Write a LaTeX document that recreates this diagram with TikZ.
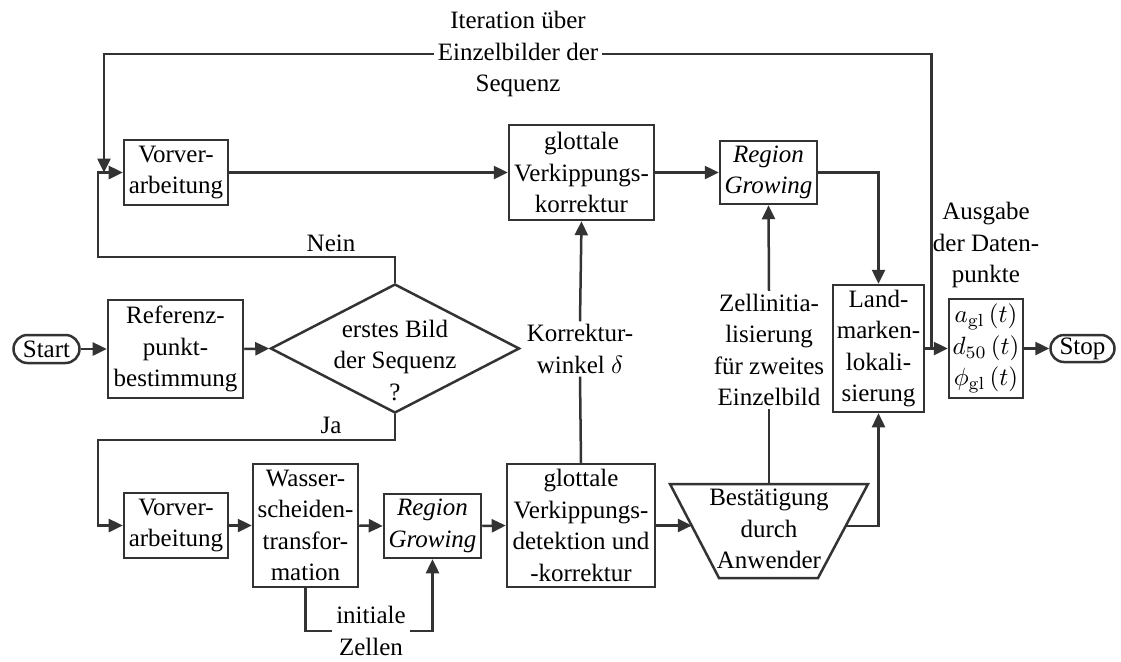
\documentclass[tikz,border=0pt]{standalone}
\usepackage[no-math]{fontspec}
\setmainfont{Liberation Serif}
\usetikzlibrary{shapes.geometric,shapes.misc,arrows.meta,calc}

\begin{document}
\begin{tikzpicture}[x=0.4pt,y=-0.4pt,
  every node/.style={font=\fontsize{10}{12.6}\selectfont, align=center},
  box/.style={draw=black!80, line width=1pt, rectangle, inner sep=1pt},
  term/.style={draw=black!80, line width=1pt, rounded rectangle, inner sep=1pt},
  lbl/.style={inner sep=1.5pt},
  conn/.style={draw=black!80, line width=1pt},
  arr/.style={conn, -{Triangle[length=5.6pt,width=5.2pt]}},
]
\useasboundingbox (0,0) rectangle (1121,661);

% start and reference point
\node[term, minimum width=28.4pt, minimum height=11.2pt] (st) at (46.5,349) {Start};
\node[box, minimum width=54pt, minimum height=39.2pt] (ref) at (175.5,349) {Referenz-\\punkt-\\bestimmung};

% decision
\node[diamond, draw=black!80, line width=1pt, minimum width=99.6pt, minimum height=51.6pt, inner sep=0pt] (dia) at (395,348.5) {};
\node[lbl] (diat) at (395,360) {erstes Bild\\der Sequenz\\?};

% upper branch (following frames)
\node[box, minimum width=41.6pt, minimum height=26pt] (v1) at (176,172.5) {Vorver-\\arbeitung};
\node[box, minimum width=58pt, minimum height=38pt] (gk) at (581.5,172.5) {glottale\\Verkippungs-\\korrektur};
\node[box, minimum width=38.8pt, minimum height=25.2pt] (rg1) at (768.5,172.5) {\textit{Region}\\\textit{Growing}};

% lower branch (first frame)
\node[box, minimum width=41.6pt, minimum height=26pt] (v2) at (176,525.5) {Vorver-\\arbeitung};
\node[box, minimum width=42pt, minimum height=49.2pt] (ws) at (305.5,525.5) {Wasser-\\scheiden-\\transfor-\\mation};
\node[box, minimum width=38.8pt, minimum height=25.6pt] (rg2) at (432.5,526) {\textit{Region}\\\textit{Growing}};
\node[box, minimum width=59.2pt, minimum height=49.2pt] (gk2) at (581,525.5) {glottale\\Verkippungs-\\detektion und\\-korrektur};

% user confirmation: inverted trapezoid around its text
\node[lbl] (tzt) at (769,529) {Bestätigung\\durch\\Anwender};
\coordinate (tz-tl) at (670,484);
\coordinate (tz-tr) at (868,484);
\coordinate (tz-br) at (818,578);
\coordinate (tz-bl) at (719,578);
\coordinate (tz-n) at ($(tz-tl)!0.5!(tz-tr)$);
\coordinate (tz-in) at ($(tz-tl)!0.447!(tz-bl)$);
\coordinate (tz-out) at ($(tz-tr)!0.447!(tz-br)$);
\draw[conn, line join=miter] (tz-tl) -- (tz-tr) -- (tz-br) -- (tz-bl) -- cycle;

% landmarks and output
\node[box, minimum width=36.4pt, minimum height=50.8pt] (lm) at (878.5,348.5) {Land-\\marken-\\lokali-\\sierung};
\node[box, minimum width=29.6pt, minimum height=39.6pt] (out) at (986,348.5)
  {$a_{\mathrm{gl}}\left(t\right)$\\$d_{50}\left(t\right)$\\$\phi_{\mathrm{gl}}\left(t\right)$};
\node[term, minimum width=27.6pt, minimum height=10.8pt] (stop) at (1082.5,348.5) {Stop};

% labels
\node[lbl] (iter) at (518,54) {Iteration über\\Einzelbilder der\\Sequenz};
\node[lbl] (nein) at (331,243) {Nein};
\node[lbl] (ja) at (331,425) {Ja};
\node[lbl, inner sep=1pt] (kw) at (580,349) {Korrektur-\\winkel $\delta$};
\node[lbl, inner sep=1pt] (zi) at (769,350) {Zellinitia-\\lisierung\\für zweites\\Einzelbild};
\node[lbl] (ini) at (371,631) {initiale\\Zellen};
\node[lbl] (ausg) at (986,245) {Ausgabe\\der Daten-\\punkte};

% helper points
\coordinate (nl) at (98,257);
\coordinate (jl) at (98,440);
\coordinate (fb) at (104,172.5);
\coordinate (jn) at ($(lm.east)+(6,0)$);

% connectors
\draw[arr] (st.east) -- (ref.west);
\draw[arr] (ref.east) -- (dia.west);
\draw[arr] (dia.north) |- (nl) |- (v1.west);
\draw[arr] (dia.south) |- (jl) |- (v2.west);
\draw[arr] (v1.east) -- (gk.west);
\draw[arr] (gk.east) -- (rg1.west);
\draw[arr] (rg1.east) -| (lm.north);
\draw[arr] (v2.east) -- (ws.west);
\draw[arr] (ws.east) -- (rg2.west);
\draw[arr] (rg2.east) -- (gk2.west);
\draw[arr] (gk2.east) -- (gk2.east -| tz-in);
\draw[arr] (tz-out) -| (lm.south);
\draw[conn] (ws.south) |- (ini.west);
\draw[arr] (ini.east) -| (rg2.south);
\draw[conn] (gk2.north) -- (kw.south);
\draw[arr] (kw.north) -- (gk.south);
\draw[conn] (tz-n) -- (zi.south);
\draw[arr] (zi.north) -- (rg1.south);
\draw[arr] (lm.east) -- (out.west);
\draw[arr] (out.east) -- (stop.west);
\draw[conn] (jn) |- (iter.east);
\draw[arr] (iter.west) -| (fb);
\end{tikzpicture}
\end{document}
